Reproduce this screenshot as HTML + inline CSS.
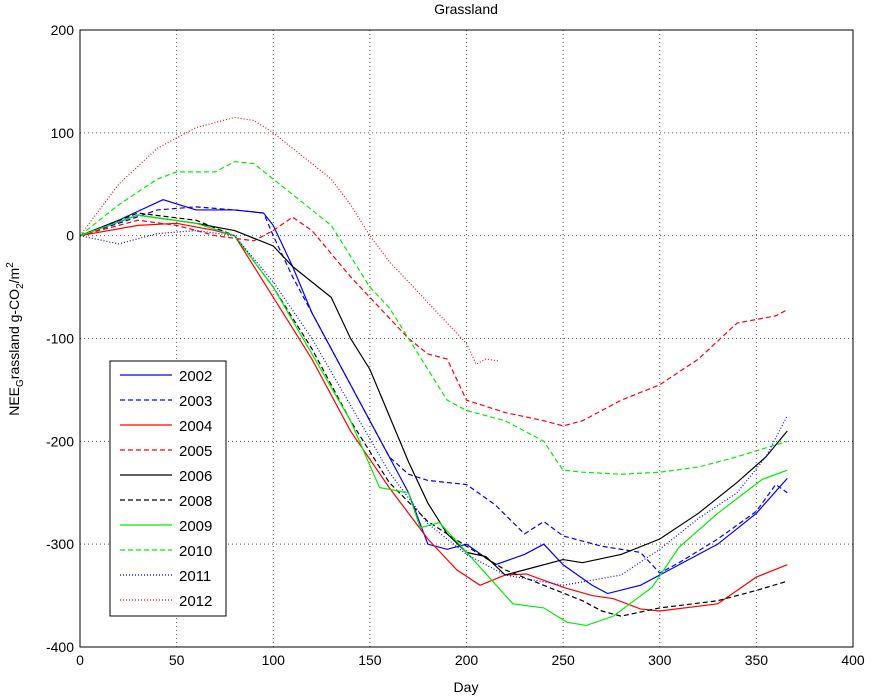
<!DOCTYPE html>
<html><head><meta charset="utf-8"><style>
body{margin:0;background:#fff;}
svg{display:block;font-family:"Liberation Sans",sans-serif;}
</style></head><body>
<svg id="chart" width="878" height="698" viewBox="0 0 878 698"></svg>
<script>
const xTicks=[0,50,100,150,200,250,300,350,400];
const yTicks=[200,100,0,-100,-200,-300,-400];
const years=["2002","2003","2004","2005","2006","2008","2009","2010","2011","2012"];
const s2002=[[0,0],[20,15],[43,35],[60,25],[80,25],[95,22],[100,10],[110,-30],[120,-75],[140,-145],[160,-215],[170,-250],[180,-300],[190,-305],[200,-300],[215,-320],[230,-310],[240,-300],[250,-320],[265,-340],[273,-348],[290,-340],[310,-320],[330,-300],[350,-270],[366,-236]];
const s2003=[[0,0],[20,12],[40,25],[60,28],[80,25],[95,22],[100,0],[110,-40],[130,-110],[150,-180],[160,-215],[170,-232],[180,-238],[200,-242],[215,-262],[230,-290],[240,-278],[250,-292],[270,-302],[290,-308],[300,-328],[310,-318],[330,-295],[350,-268],[360,-242],[366,-250]];
const s2004=[[0,0],[30,10],[50,12],[70,5],[80,0],[100,-60],[120,-120],[140,-190],[160,-245],[180,-295],[195,-325],[207,-340],[220,-330],[231,-329],[250,-342],[265,-350],[276,-353],[290,-363],[300,-365],[330,-358],[350,-332],[366,-320]];
const s2005=[[0,0],[30,15],[50,10],[70,0],[90,-5],[100,5],[110,18],[120,5],[140,-40],[160,-80],[170,-100],[180,-115],[190,-120],[200,-160],[220,-172],[240,-180],[250,-185],[260,-180],[280,-160],[300,-145],[320,-120],[340,-85],[360,-78],[366,-72]];
const s2006=[[0,0],[30,20],[60,12],[80,5],[100,-10],[110,-30],[130,-60],[140,-100],[150,-130],[160,-175],[170,-220],[180,-260],[190,-290],[200,-308],[210,-312],[220,-330],[230,-325],[250,-315],[260,-318],[280,-310],[300,-295],[320,-270],[340,-240],[355,-215],[366,-190]];
const s2008=[[0,0],[30,22],[60,15],[80,0],[100,-50],[120,-110],[140,-180],[160,-240],[180,-278],[200,-302],[220,-325],[240,-340],[260,-355],[270,-365],[280,-370],[300,-362],[330,-355],[350,-345],[366,-336]];
const s2009=[[0,0],[30,20],[60,12],[80,0],[100,-50],[120,-115],[140,-180],[155,-245],[170,-250],[176,-284],[186,-279],[203,-314],[224,-358],[240,-362],[252,-376],[262,-379],[276,-370],[296,-342],[310,-303],[330,-270],[353,-237],[366,-228]];
const s2010=[[0,0],[20,30],[40,55],[50,62],[70,62],[80,72],[90,70],[100,55],[110,40],[120,25],[130,10],[140,-20],[150,-50],[160,-70],[170,-100],[180,-130],[190,-160],[200,-170],[220,-180],[240,-200],[247,-220],[250,-228],[260,-230],[280,-232],[300,-230],[320,-225],[340,-215],[366,-200]];
const s2011=[[0,0],[20,-8],[40,2],[60,5],[80,0],[100,-45],[120,-100],[140,-165],[160,-230],[180,-280],[200,-310],[220,-330],[250,-340],[280,-330],[300,-305],[320,-275],[340,-250],[355,-215],[366,-175]];
const s2012=[[0,0],[20,50],[40,85],[60,105],[70,110],[80,115],[90,112],[100,100],[110,85],[120,70],[130,55],[140,30],[150,0],[160,-25],[170,-45],[180,-65],[190,-85],[200,-105],[205,-125],[210,-120],[217,-122]];
const seriesData=[s2002,s2003,s2004,s2005,s2006,s2008,s2009,s2010,s2011,s2012];
const colors=["#0000ff","#0000ff","#ff0000","#ff0000","#000","#000","#00ee00","#00ee00","#0000ff","#ff0000"];
const dashes=["","5,3","","5,3","","5,3","","5,3","1,2","1,2"];

const L=80,R=853,T=30,B=647;
const xs=v=>L+(v-0)/400*(R-L);
const ys=v=>T+(200-v)/600*(B-T);
const svg=document.getElementById('chart');
const NS="http://www.w3.org/2000/svg";
function mk(tag,attrs,parent){const e=document.createElementNS(NS,tag);for(const k in attrs)e.setAttribute(k,attrs[k]);(parent||svg).appendChild(e);return e;}

mk('rect',{x:L,y:T,width:R-L,height:B-T,fill:'#fff'});
xTicks.forEach(t=>{
  const x=xs(t);
  if(t>0&&t<400){const g=mk('line',{x1:x,x2:x,y1:T,y2:B,stroke:'#555','stroke-dasharray':'1,3','stroke-width':1});
  
  }
  const lb=mk('text',{x:x,y:B+18,'text-anchor':'middle','font-size':14});
  lb.textContent=t;
  
  
});
yTicks.forEach(t=>{
  const y=ys(t);
  if(t<200&&t>-400){const g=mk('line',{x1:L,x2:R,y1:y,y2:y,stroke:'#555','stroke-dasharray':'1,3','stroke-width':1});
  
  }
  const lb=mk('text',{x:L-6,y:y+5,'text-anchor':'end','font-size':14});
  lb.textContent=t;
  
  
});

seriesData.forEach((d,i)=>{
  const p=mk('polyline',{points:d.map(q=>xs(q[0])+','+ys(q[1])).join(' '),fill:'none',stroke:colors[i],'stroke-width':1.2,'stroke-dasharray':dashes[i]});
  
  
});

const frame=mk('rect',{x:L,y:T,width:R-L,height:B-T,fill:'none',stroke:'#000','stroke-width':1});



const lg=mk('g',{});


mk('rect',{x:110,y:361,width:116,height:255,fill:'#fff',stroke:'#000','stroke-width':1},lg);
years.forEach((yr,i)=>{
  const y=375+i*25;
  const ln=mk('line',{x1:120,x2:172,y1:y,y2:y,stroke:colors[i],'stroke-width':1.2,'stroke-dasharray':dashes[i]},lg);
  
  
  const tx=mk('text',{x:179,y:y+6,'font-size':15},lg);
  tx.textContent=yr;
  
  
});
</script>
<svg style="position:absolute;left:0;top:0" width="878" height="698">
<text x="466" y="14" text-anchor="middle" font-size="14" font-family="Liberation Sans, sans-serif">Grassland</text>
<text x="466" y="692" text-anchor="middle" font-size="14" font-family="Liberation Sans, sans-serif">Day</text>
<text transform="translate(19,339) rotate(-90)" text-anchor="middle" font-size="14" font-family="Liberation Sans, sans-serif">NEE<tspan dy="4" font-size="10">G</tspan><tspan dy="-4">rassland g-CO</tspan><tspan dy="4" font-size="10">2</tspan><tspan dy="-4">/m</tspan><tspan dy="-6" font-size="10">2</tspan></text>
</svg>
</body></html>
